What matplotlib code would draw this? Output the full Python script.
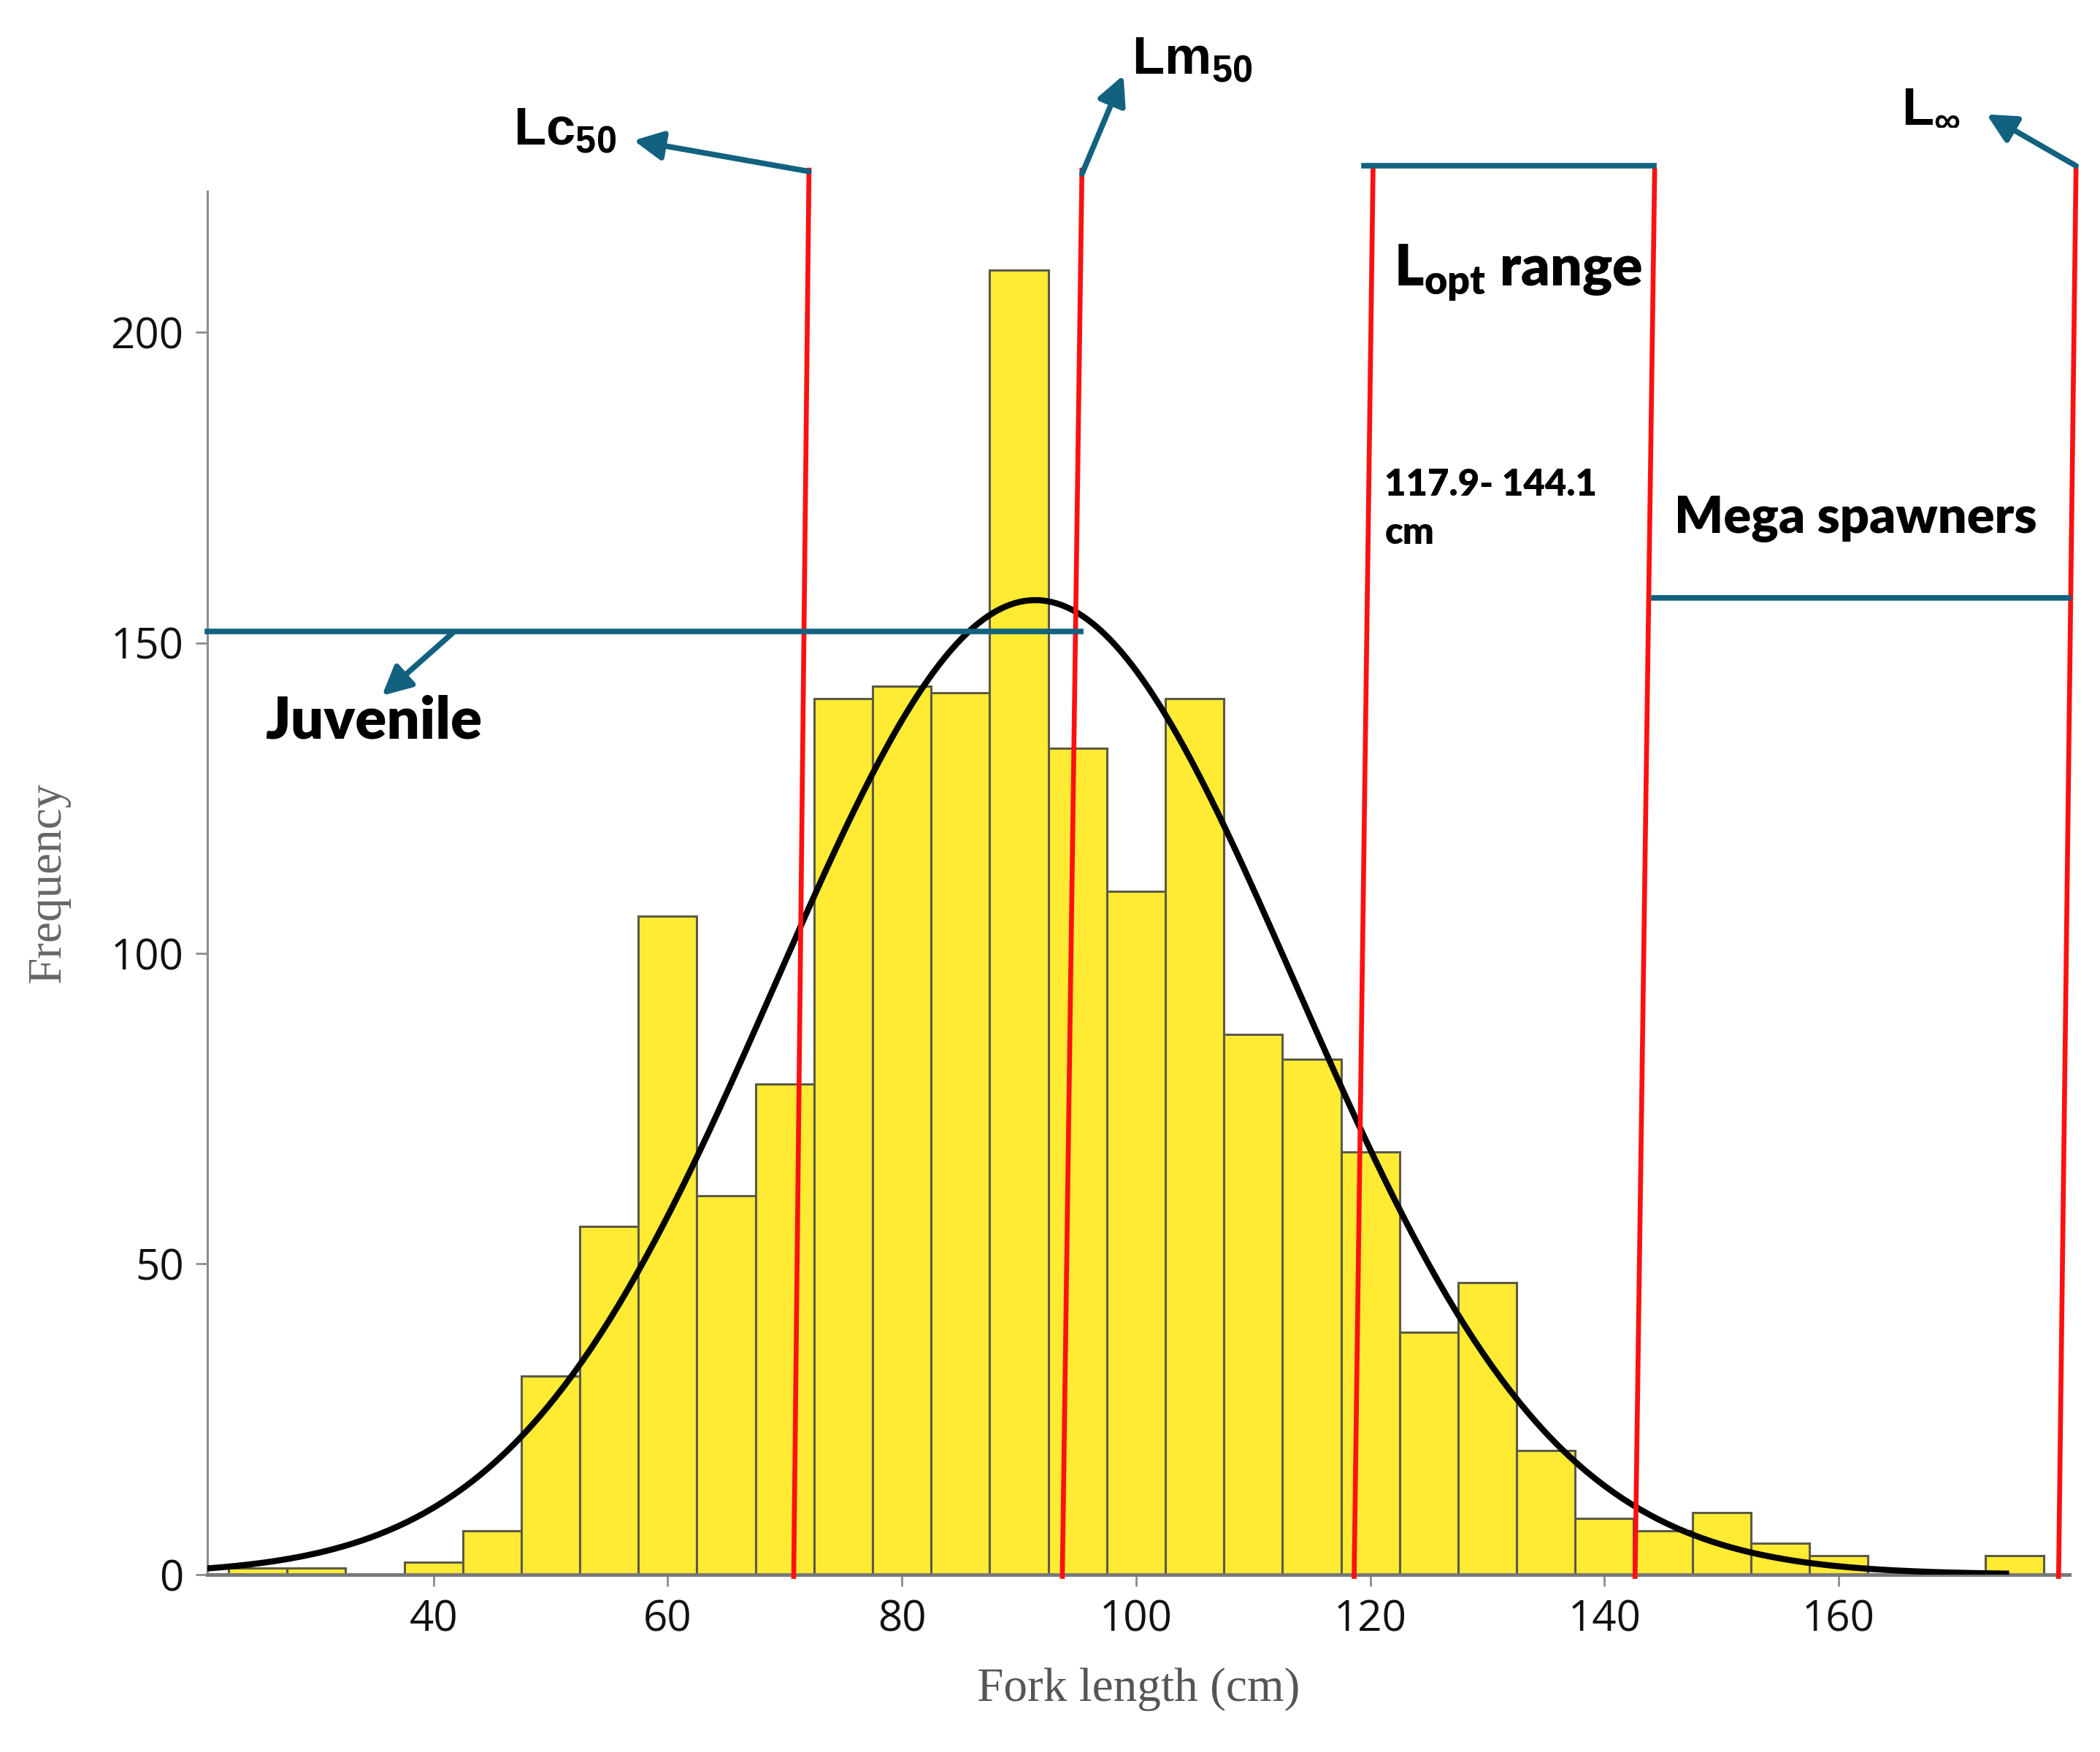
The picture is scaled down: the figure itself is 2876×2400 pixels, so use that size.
import numpy as np
import matplotlib
matplotlib.use("Agg")
import matplotlib.pyplot as plt

# histogram of fork length (5 cm bins, centres)
bin_centres = [25, 30, 35, 40, 45, 50, 55, 60, 65, 70, 75, 80, 85, 90, 95, 100,
               105, 110, 115, 120, 125, 130, 135, 140, 145, 150, 155, 160, 165, 170, 175]
counts = [1, 1, 0, 2, 7, 32, 56, 106, 61, 79, 141, 143, 142, 210, 133, 110,
          141, 87, 83, 68, 39, 47, 20, 9, 7, 10, 5, 3, 0, 0, 3]
bin_width = 5

# fitted normal curve
fit_mean = 91.4
fit_sd = 22.2
curve_range = [20.8, 174.3]

# hand-drawn reference lines: (x at top, x at bottom)
ref_lines = {
    "Lc50": (72.07, 70.76),
    "Lm50": (95.38, 93.70),
    "Lopt_low": (120.24, 118.62),
    "Lopt_high": (144.29, 142.61),
    "Linf": (180.27, 178.78),
}
ref_top = 226.5
ref_bottom = -0.7

juvenile_y = 151.8
juvenile_x = [20.7, 95.25]
lopt_bar_y = 226.8
lopt_bar_x = [119.49, 144.23]
mega_y = 157.2
mega_x = [144.23, 179.65]

xticks = [40, 60, 80, 100, 120, 140, 160]
yticks = [0, 50, 100, 150, 200]

RED = "#ff1010"
BLUE = "#12627f"
YELLOW = "#ffeb33"

plt.rcParams["mathtext.fontset"] = "custom"
plt.rcParams["mathtext.rm"] = "Liberation Sans:bold"
plt.rcParams["mathtext.sf"] = "Lato:heavy"

fig = plt.figure(figsize=(28.76, 24), dpi=100)
ax = fig.add_axes([0.0988, 0.1013, 0.8866, 0.7895])

ax.bar(bin_centres, counts, width=bin_width, color=YELLOW,
       edgecolor="#5c5a48", linewidth=2.2, zorder=2)

xs = np.linspace(curve_range[0], curve_range[1], 400)
n_total = sum(counts)
ys = n_total * bin_width / (fit_sd * np.sqrt(2 * np.pi)) * np.exp(-0.5 * ((xs - fit_mean) / fit_sd) ** 2)
ax.plot(xs, ys, color="black", lw=6, zorder=3)

ax.set_xlim(20.7, 179.7)
ax.set_ylim(0, 222.7)

for top_x, bot_x in ref_lines.values():
    ax.plot([top_x, bot_x], [ref_top, ref_bottom], color=RED, lw=4.8,
            clip_on=False, zorder=4, solid_capstyle="butt")

# blue range bars
ax.plot(juvenile_x, [juvenile_y, juvenile_y], color=BLUE, lw=5.5, clip_on=False, zorder=5)
ax.plot(lopt_bar_x, [lopt_bar_y, lopt_bar_y], color=BLUE, lw=5.5, clip_on=False, zorder=5)
ax.plot(mega_x, [mega_y, mega_y], color=BLUE, lw=5.5, clip_on=False, zorder=5)

arrow_kw = dict(arrowstyle="-|>,head_length=0.8,head_width=0.4", color=BLUE,
                lw=5.5, mutation_scale=30, shrinkA=0, shrinkB=0)
arrows = [
    ((41.7, 151.7), (35.6, 141.5)),
    ((72.07, 225.9), (57.09, 230.9)),
    ((95.38, 225.5), (98.92, 241.4)),
    ((180.27, 226.8), (172.63, 235.1)),
]
for start, tip in arrows:
    ax.annotate("", xy=tip, xytext=start, arrowprops=arrow_kw,
                annotation_clip=False, zorder=6)

ax.text(25.64, 134.6, "Juvenile", fontsize=57.5, fontweight="heavy", family="Lato",
        ha="left", va="baseline")
ax.text(46.84, 230.3, "Lc$_{50}$", fontsize=52, fontweight="bold",
        family="Liberation Sans", ha="left", va="baseline")
ax.text(99.66, 241.7, "Lm$_{50}$", fontsize=52, fontweight="bold",
        family="Liberation Sans", ha="left", va="baseline")
ax.text(165.36, 234.0, "L$_{\\infty}$", fontsize=52, fontweight="bold",
        family="Liberation Sans", ha="left", va="baseline")
ax.text(122.04, 207.5, "L$_{\\mathsf{opt}}$ range", fontsize=55.5, fontweight="heavy",
        family="Lato", ha="left", va="baseline")
ax.text(121.23, 173.7, "117.9- 144.1", fontsize=36.5, fontweight="heavy",
        family="Lato", ha="left", va="baseline")
ax.text(121.23, 165.9, "cm", fontsize=36.5, fontweight="heavy",
        family="Lato", ha="left", va="baseline")
ax.text(145.97, 167.7, "Mega spawners", fontsize=50.5, fontweight="heavy",
        family="Lato", ha="left", va="baseline")

for side in ["top", "right"]:
    ax.spines[side].set_visible(False)
ax.spines["left"].set_color("#8c8c8c")
ax.spines["left"].set_linewidth(2.2)
ax.spines["bottom"].set_color("#7a7a7a")
ax.spines["bottom"].set_linewidth(3.6)

ax.set_xticks(xticks)
ax.set_yticks(yticks)
ax.tick_params(axis="both", direction="out", length=11.5, width=2, color="#8c8c8c",
               labelsize=42, labelcolor="#111111", pad=12)
for lbl in ax.get_xticklabels() + ax.get_yticklabels():
    lbl.set_family("Open Sans")

ax.set_xlabel("Fork length (cm)", family="Liberation Serif", fontsize=47,
              color="#555555", labelpad=26)
ax.set_ylabel("Frequency", family="Liberation Serif", fontsize=47,
              color="#666666", labelpad=40)

fig.savefig("out.png", dpi=100)
